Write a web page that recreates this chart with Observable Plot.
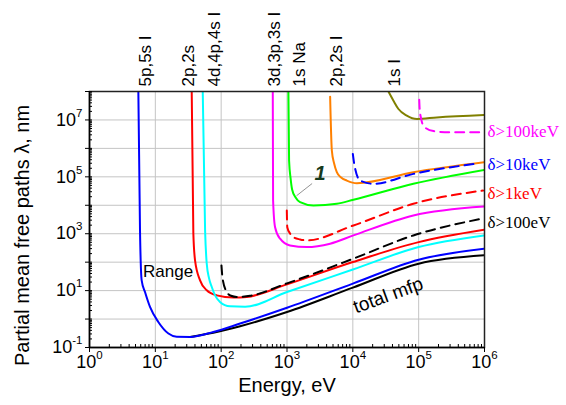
<!DOCTYPE html>
<html><head><meta charset="utf-8">
<script src="https://cdn.jsdelivr.net/npm/d3@7"></script>
<script src="https://cdn.jsdelivr.net/npm/@observablehq/plot@0.6"></script>
<style>
html,body{margin:0;padding:0;background:#fff;}
#chart svg{font-family:"Liberation Sans",Arial,sans-serif;overflow:visible;}
</style></head><body><div id="chart"></div>
<script>
// ---- axis ticks & labels ----
const xTicks = [1, 10, 100, 1e3, 1e4, 1e5, 1e6];
const xTickLabels = ["10^0", "10^1", "10^2", "10^3", "10^4", "10^5", "10^6"];
const yTicks = [0.1, 1, 10, 100, 1e3, 1e4, 1e5, 1e6, 1e7, 1e8];
const yLabelTicks = [0.1, 10, 1e3, 1e5, 1e7];
const yTickLabels = ["10^-1", "10^1", "10^3", "10^5", "10^7"];
const xTitle = "Energy, eV";
const yTitle = "Partial mean free paths \u03bb, nm";

// ---- curves: [energy eV, lambda nm] ----
const shell5p5s = [[5.52,1e8],[5.85,1300],[6.2,23],[6.97,8.9],[8.3,2.66],[11.1,0.79],[15.8,0.31],[21.1,0.239],[33.7,0.236],[76,0.352],[194,0.695],[1000,2.5],[1e4,17.6],[1e5,122],[1e6,298]];
const totalMfp = [[33.7,0.236],[76,0.33],[194,0.56],[1000,1.77],[1e4,12.7],[1e5,88.5],[1e6,175]];
const shell2p2s = [[35.7,1e8],[37.8,1025],[40.1,116],[47.8,23],[60.4,10.3],[85.7,6.8],[153,5.7],[245,6.0],[1000,16.6],[1e4,101],[1e5,507],[1e6,1380]];
const shell4d4p4s = [[52.5,1e8],[57,1300],[60.4,88],[65.5,27],[72,13.4],[80.8,6.8],[96,4.0],[136,2.8],[231,2.7],[1000,8.9],[1e4,55],[1e5,339],[1e6,870]];
const shell3d3p3s = [[608,1e8],[615,1.47e4],[659,1700],[785,668],[1110,388],[2000,339],[4520,446],[1.02e4,871],[8.3e4,4390],[1e6,9080]];
const shell1sNa = [[1050,1e8],[1076,3.7e5],[1135,8.7e4],[1196,3.6e4],[1352,1.88e4],[1580,1.29e4],[2520,9840],[5710,1.13e4],[1.02e4,1.56e4],[8.3e4,5.7e4],[1e6,1.76e5]];
const shell2p2sI = [[4520,6.6e7],[4800,8.4e5],[5200,2.93e5],[5710,1.45e5],[6640,9.4e4],[8110,7.4e4],[1.15e4,5.96e4],[8.3e4,1.45e5],[1e6,3.25e5]];
const shell1sI = [[3.47e4,1e8],[4.14e4,4.75e7],[4.93e4,2.43e7],[6.6e4,1.42e7],[9.4e4,1.08e7],[1.89e5,1.23e7],[1e6,1.5e7]];
const delta100eV = [[101,77],[105,27],[122,8.9],[141,6.6],[173,6.0],[275,6.6],[1000,18],[1.02e4,133],[8.3e4,871],[9.5e5,3440]];
const delta1keV = [[993,6580],[1010,1700],[1110,1025],[1250,760],[1580,631],[2000,582],[1.02e4,1950],[8.3e4,1.13e4],[9.5e5,3.3e4]];
const delta10keV = [[1e4,6.4e5],[1.05e4,2.86e5],[1.29e4,7.4e4],[2.06e4,5.7e4],[8.3e4,1.27e5],[7.2e5,2.86e5]];
const delta100keV = [[1.02e5,5.15e7],[1.035e5,2.5e7],[1.09e5,1.11e7],[1.21e5,5.8e6],[1.68e5,4.05e6],[3e5,3.67e6],[9.7e5,3.67e6]];

// ---- labels ----
const topLabels = [["5p,5s I",5.65],["2p,2s",25.2],["4d,4p,4s I",63.9],["3d,3p,3s I",521],["1s Na",1250],["2p,2s I",4410],["1s I",3.47e4]];
const rightLabels = [["\u03b4>100keV",3.9e6],["\u03b4>10keV",2.7e5],["\u03b4>1keV",2.6e4],["\u03b4>100eV",2490]];
const rangeLabel = [["Range",15.6,45]];
const totalLabel = [["total mfp",3.44e4,6.8]];
const curveOneLabel = [["1",3190,1.34e5]];
const curveOneLeader = [[2380,5.7e4],[1410,2.2e4]];

// ---- styles ----
const solids = [
  [totalMfp, "#000000"], [shell5p5s, "#0000ff"], [shell2p2s, "#ff0000"], [shell4d4p4s, "#00ffff"],
  [shell3d3p3s, "#ff00ff"], [shell1sNa, "#00ff00"], [shell2p2sI, "#ff8000"], [shell1sI, "#808000"]
];
const dashes = [
  [delta100eV, "#000000"], [delta1keV, "#ff0000"], [delta10keV, "#0000ff"], [delta100keV, "#ff00ff"]
];
const rightColors = ["#ff00ff", "#0000ff", "#ff0000", "#000000"];

const minorX = xTicks.slice(0, -1).flatMap(d => [2,3,4,5,6,7,8,9].map(k => k * d));
const minorY = yTicks.slice(0, -1).flatMap(d => [1,2,3,4,5,6,7,8,9].map(k => k * d)).concat([1e8]);

const lineOpts = (color, dash) => ({x: d => d[0], y: d => d[1], stroke: color, strokeWidth: 2, strokeDasharray: dash, curve: "monotone-x", clip: true});

const plot = Plot.plot({
  width: 566, height: 405,
  marginLeft: 89, marginRight: 82, marginTop: 91, marginBottom: 58,
  style: {fontFamily: "Liberation Sans, Arial, sans-serif", background: "#fff"},
  x: {type: "log", domain: [1, 1e6]},
  y: {type: "log", domain: [0.1, 1e8]},
  marks: [
    Plot.gridX(xTicks, {stroke: "#c4c4c4", strokeOpacity: 1, strokeWidth: 1}),
    Plot.gridY(yTicks, {stroke: "#c4c4c4", strokeOpacity: 1, strokeWidth: 1}),
    ...solids.map(([d, c]) => Plot.line(d, lineOpts(c))),
    ...dashes.map(([d, c]) => Plot.line(d, lineOpts(c, "9,6"))),
    Plot.frame({stroke: "#222", strokeWidth: 1.5}),
    // axes
    Plot.axisX(xTicks, {anchor: "bottom", tickSize: 5, tickPadding: 3, fontSize: 18, tickFormat: d => xTickLabels[xTicks.indexOf(d)], label: null}),
    Plot.axisX(minorX, {anchor: "bottom", tickSize: 3, dy: -3, tickFormat: () => "", label: null}),
    Plot.axisY(yTicks, {anchor: "left", tickSize: 4, tickFormat: () => "", label: null}),
    Plot.axisY(yLabelTicks, {anchor: "left", tickSize: 0, tickPadding: 7, fontSize: 18, tickFormat: d => yTickLabels[yLabelTicks.indexOf(d)], label: null}),
    Plot.axisY(minorY, {anchor: "left", tickSize: 3, dx: 3, tickFormat: () => "", label: null}),
    Plot.ruleX([1], {stroke: "#000", strokeWidth: 1.5}),
    Plot.ruleY([0.1], {stroke: "#000", strokeWidth: 1.5}),
    // titles
    Plot.text([xTitle], {frameAnchor: "bottom", dy: 44, fontSize: 20, fill: "#000"}),
    Plot.text([yTitle], {frameAnchor: "left", textAnchor: "middle", rotate: -90, dx: -67, dy: 16, fontSize: 20, fill: "#000"}),
    // top shell labels
    Plot.text(topLabels, {x: d => d[1], text: d => d[0], frameAnchor: "top", rotate: -90, textAnchor: "start", dy: -5, fontSize: 17, fill: "#000"}),
    // right labels
    Plot.text(rightLabels, {y: d => d[1], text: d => d[0], frameAnchor: "right", textAnchor: "start", dx: 3, fontSize: 17, fontFamily: "Liberation Serif, Times New Roman, serif", fill: (d, i) => rightColors[i]}),
    // annotations
    Plot.text(rangeLabel, {x: d => d[1], y: d => d[2], text: d => d[0], fontSize: 17, fill: "#000"}),
    Plot.text(totalLabel, {x: d => d[1], y: d => d[2], text: d => d[0], fontSize: 19, rotate: -20, fill: "#000"}),
    Plot.line(curveOneLeader, {x: d => d[0], y: d => d[1], stroke: "#777", strokeWidth: 0.8}),
    Plot.text(curveOneLabel, {x: d => d[1], y: d => d[2], text: d => d[0], fontSize: 20, fontStyle: "italic", fontWeight: "bold", fill: "#163a1c"})
  ]
});

// superscript exponents in tick labels
const NS = "http://www.w3.org/2000/svg";
plot.querySelectorAll('g[aria-label$="tick label"] text').forEach(t => {
  const s = t.textContent;
  const i = s.indexOf("^");
  if (i < 0) return;
  t.textContent = "";
  const a = document.createElementNS(NS, "tspan");
  a.textContent = s.slice(0, i);
  const b = document.createElementNS(NS, "tspan");
  b.textContent = s.slice(i + 1);
  b.setAttribute("dy", "-9");
  b.setAttribute("font-size", "11.5");
  t.append(a, b);
});
document.getElementById("chart").append(plot);
</script></body></html>
